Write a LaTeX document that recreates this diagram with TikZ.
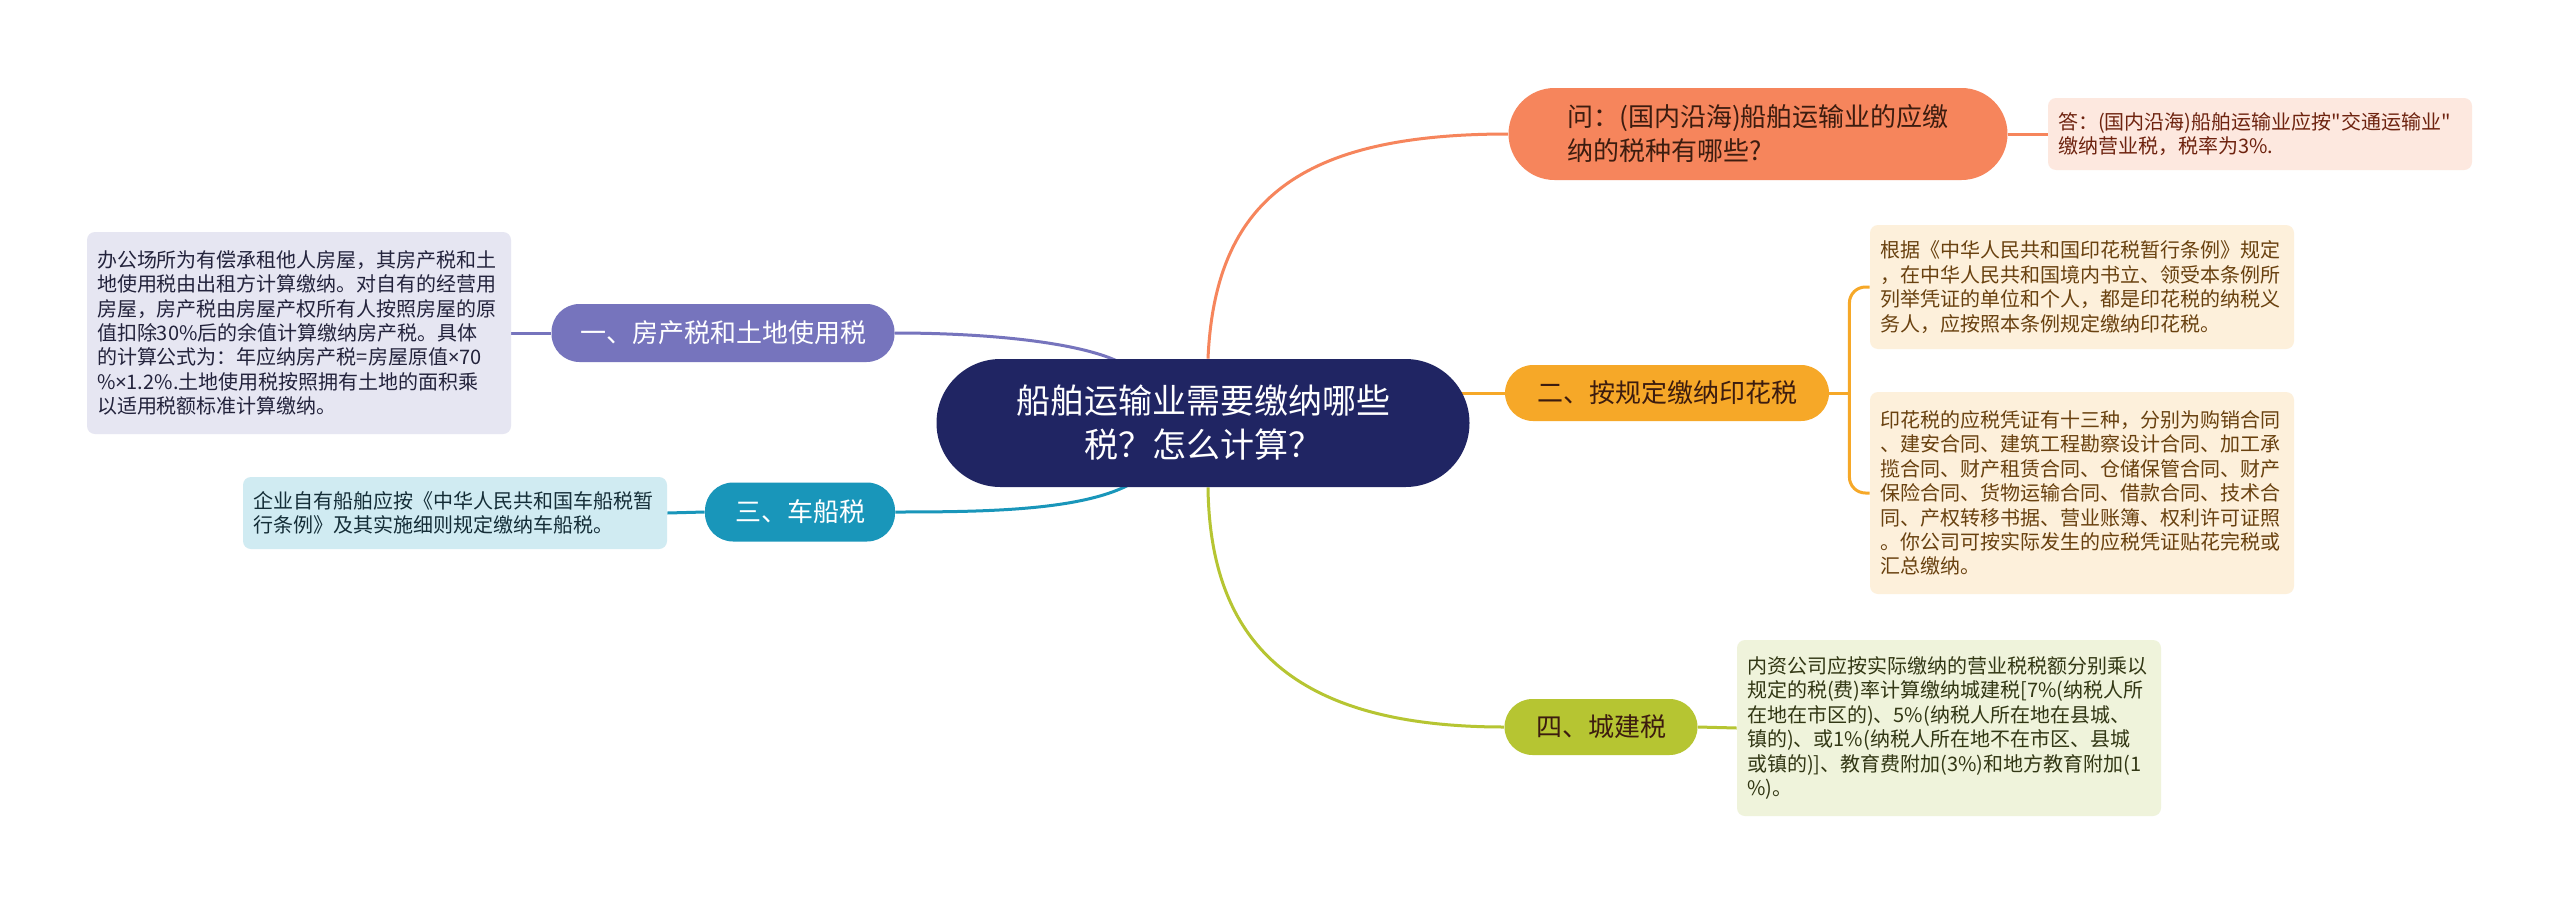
\documentclass[tikz,border=0pt]{standalone}
\usepackage{fontspec}
\setmainfont{Noto Sans CJK SC}[Ligatures=TeXOff]
\newfontfamily\latinfont{Noto Sans}
\newcommand{\tms}{{\latinfont ×}}
\usetikzlibrary{scopes,calc,backgrounds}

\definecolor{navy}{RGB}{32,37,99}
\definecolor{coral}{RGB}{246,133,92}
\definecolor{qtext}{RGB}{60,28,15}
\definecolor{anspink}{RGB}{253,232,223}
\definecolor{anstext}{RGB}{110,35,15}
\definecolor{amber}{RGB}{246,168,40}
\definecolor{stampfill}{RGB}{253,240,219}
\definecolor{stamptext}{RGB}{105,65,15}
\definecolor{olive}{RGB}{182,197,50}
\definecolor{cityfill}{RGB}{239,243,219}
\definecolor{citytext}{RGB}{50,55,20}
\definecolor{lilac}{RGB}{118,116,189}
\definecolor{housefill}{RGB}{230,230,242}
\definecolor{housetext}{RGB}{35,35,60}
\definecolor{teal}{RGB}{25,150,186}
\definecolor{shipfill}{RGB}{208,235,242}
\definecolor{shiptext}{RGB}{20,45,55}

\begin{document}
\begin{tikzpicture}[x=0.5pt,y=-0.5pt,
  root/.style={fill=navy,text=white,rounded corners=32pt,minimum width=266.5pt,
    minimum height=64pt,inner sep=0pt,align=center,font=\fontsize{17}{22}\selectfont},
  branch/.style={rounded corners=14pt,minimum height=28pt,inner sep=0pt,align=left,
    font=\fontsize{13}{17}\selectfont},
  leaf/.style={rounded corners=4pt,text width=202pt,inner xsep=5pt,inner ysep=0pt,
    align=left,font=\fontsize{10}{12.2}\selectfont},
  link/.style={line width=1.5pt}]
  \useasboundingbox (0,0) rectangle (2560,905);

  \node[root] (root) at (1203,423) {船舶运输业需要缴纳哪些\\税？怎么计算？};

  \node[branch,fill=coral,text=qtext,rounded corners=23pt,minimum width=249.5pt,
    minimum height=46pt] (q) at (1758,134) {问：(国内沿海)船舶运输业的应缴\\纳的税种有哪些?};
  \node[leaf,fill=anspink,text=anstext,minimum height=36pt] (ans) at (2260,134)
    {答：(国内沿海)船舶运输业应按"交通运输业"\\缴纳营业税，税率为3\%.};

  \node[branch,fill=amber,text=qtext,minimum width=162pt] (stamp) at (1667,393) {二、按规定缴纳印花税};
  \node[leaf,fill=stampfill,text=stamptext,minimum height=62pt] (stampa) at (2082,287)
    {根据《中华人民共和国印花税暂行条例》规定\\，在中华人民共和国境内书立、领受本条例所\\列举凭证的单位和个人，都是印花税的纳税义\\务人，应按照本条例规定缴纳印花税。};
  \node[leaf,fill=stampfill,text=stamptext,minimum height=101pt] (stampb) at (2082,493)
    {印花税的应税凭证有十三种，分别为购销合同\\、建安合同、建筑工程勘察设计合同、加工承\\揽合同、财产租赁合同、仓储保管合同、财产\\保险合同、货物运输合同、借款合同、技术合\\同、产权转移书据、营业账簿、权利许可证照\\。你公司可按实际发生的应税凭证贴花完税或\\汇总缴纳。};

  \node[branch,fill=olive,text=qtext,minimum width=96.5pt] (city) at (1601,727) {四、城建税};
  \node[leaf,fill=cityfill,text=citytext,minimum height=88pt] (citytxt) at (1949,728)
    {内资公司应按实际缴纳的营业税税额分别乘以\\规定的税(费)率计算缴纳城建税[7\%(纳税人所\\在地在市区的)、5\%(纳税人所在地在县城、\\镇的)、或1\%(纳税人所在地不在市区、县城\\或镇的)]、教育费附加(3\%)和地方教育附加(1\\\%)。};

  \node[branch,fill=lilac,text=white,minimum width=171.5pt,minimum height=29pt] (house) at (723,333) {一、房产税和土地使用税};
  \node[leaf,fill=housefill,text=housetext,minimum height=101pt] (housetxt) at (299,333)
    {办公场所为有偿承租他人房屋，其房产税和土\\地使用税由出租方计算缴纳。对自有的经营用\\房屋，房产税由房屋产权所有人按照房屋的原\\值扣除30\%后的余值计算缴纳房产税。具体\\的计算公式为：年应纳房产税=房屋原值\tms70\\\%\tms1.2\%.土地使用税按照拥有土地的面积乘\\以适用税额标准计算缴纳。};

  \node[branch,fill=teal,text=white,minimum width=95pt,minimum height=29.5pt] (ship) at (800,512) {三、车船税};
  \node[leaf,fill=shipfill,text=shiptext,minimum height=36pt] (shiptxt) at (455,513)
    {企业自有船舶应按《中华人民共和国车船税暂\\行条例》及其实施细则规定缴纳车船税。};

  \begin{pgfonlayer}{background}
    \fill[white] (0,0) rectangle (2560,905);
    { [link]
      { [coral]
        \draw ($(root.north)+(5,0)$) .. controls (1215,200) and (1300,134) .. (q.west);
        \draw (q.east) -- (ans.west);
      }
      { [amber]
        \coordinate (fork) at ($(stamp.east)+(20,0)$);
        \draw ($(root.east)+(-12,-30)$) -- (stamp.west);
        \draw (stamp.east) -- (fork);
        \draw[rounded corners=8pt] (fork) |- (stampa.west);
        \draw[rounded corners=8pt] (fork) |- (stampb.west);
      }
      { [olive]
        \draw ($(root.south)+(5,0)$) .. controls (1210,640) and (1290,727) .. (city.west);
        \draw (city.east) -- (citytxt.west);
      }
      { [lilac]
        \draw ($(root.north west)+(200,15)$) .. controls (1110,345) and (1000,333) .. (house.east);
        \draw (house.west) -- (housetxt.east);
      }
      { [teal]
        \draw ($(root.south west)+(213,-17)$) .. controls (1110,510) and (1000,512) .. (ship.east);
        \draw (ship.west) -- (shiptxt.east);
      }
    }
  \end{pgfonlayer}
\end{tikzpicture}
\end{document}
